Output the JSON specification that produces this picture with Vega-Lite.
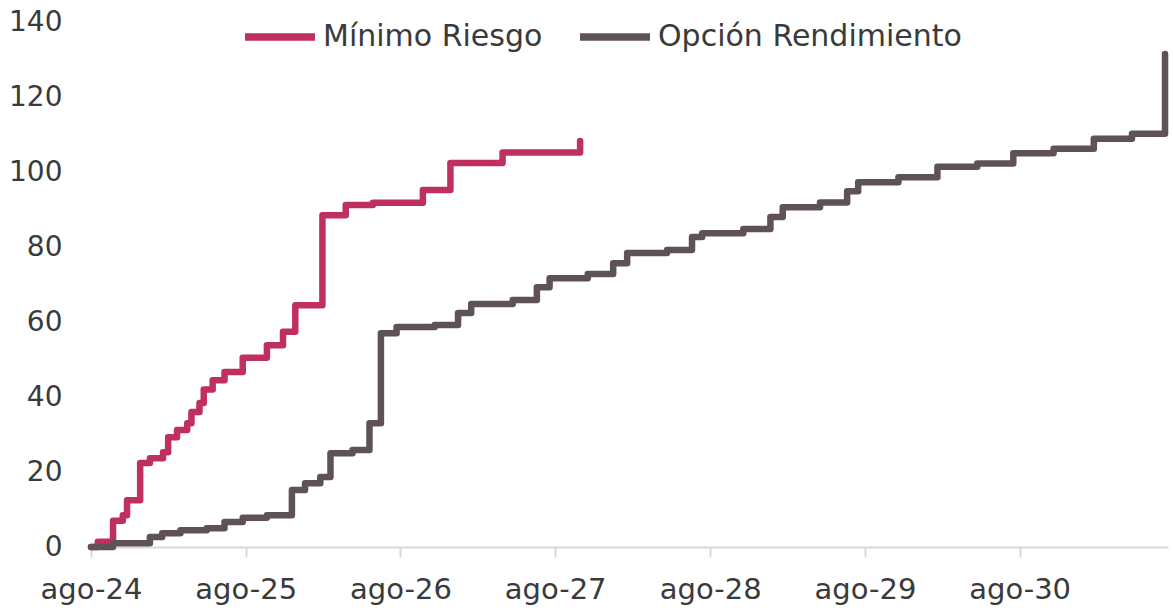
{
  "$schema": "https://vega.github.io/schema/vega-lite/v6.json",
  "width": 1077,
  "height": 525,
  "autosize": {"type": "none"},
  "padding": {"left": 91, "top": 22, "right": 5, "bottom": 67},
  "background": "white",
  "config": {
    "view": {"stroke": null},
    "font": "DejaVu Sans"
  },
  "data": {
    "values": [
      {"serie": "Mínimo Riesgo", "fecha": "2024-08-01", "valor": 0},
      {"serie": "Mínimo Riesgo", "fecha": "2024-08-17", "valor": 1.4},
      {"serie": "Mínimo Riesgo", "fecha": "2024-09-22", "valor": 7},
      {"serie": "Mínimo Riesgo", "fecha": "2024-10-15", "valor": 8.5},
      {"serie": "Mínimo Riesgo", "fecha": "2024-10-25", "valor": 12.5},
      {"serie": "Mínimo Riesgo", "fecha": "2024-11-25", "valor": 22.4},
      {"serie": "Mínimo Riesgo", "fecha": "2024-12-18", "valor": 23.7},
      {"serie": "Mínimo Riesgo", "fecha": "2025-01-18", "valor": 25.3},
      {"serie": "Mínimo Riesgo", "fecha": "2025-01-30", "valor": 29.3},
      {"serie": "Mínimo Riesgo", "fecha": "2025-02-20", "valor": 31.2},
      {"serie": "Mínimo Riesgo", "fecha": "2025-03-16", "valor": 33},
      {"serie": "Mínimo Riesgo", "fecha": "2025-03-26", "valor": 36},
      {"serie": "Mínimo Riesgo", "fecha": "2025-04-14", "valor": 38.4},
      {"serie": "Mínimo Riesgo", "fecha": "2025-04-24", "valor": 42},
      {"serie": "Mínimo Riesgo", "fecha": "2025-05-15", "valor": 44.5},
      {"serie": "Mínimo Riesgo", "fecha": "2025-06-12", "valor": 46.7},
      {"serie": "Mínimo Riesgo", "fecha": "2025-07-25", "valor": 50.5},
      {"serie": "Mínimo Riesgo", "fecha": "2025-09-20", "valor": 53.8},
      {"serie": "Mínimo Riesgo", "fecha": "2025-10-28", "valor": 57.4},
      {"serie": "Mínimo Riesgo", "fecha": "2025-11-26", "valor": 64.5},
      {"serie": "Mínimo Riesgo", "fecha": "2026-01-29", "valor": 88.5},
      {"serie": "Mínimo Riesgo", "fecha": "2026-03-25", "valor": 91.2},
      {"serie": "Mínimo Riesgo", "fecha": "2026-05-28", "valor": 91.8},
      {"serie": "Mínimo Riesgo", "fecha": "2026-09-23", "valor": 95.2},
      {"serie": "Mínimo Riesgo", "fecha": "2026-11-27", "valor": 102.4},
      {"serie": "Mínimo Riesgo", "fecha": "2027-03-30", "valor": 105.2},
      {"serie": "Mínimo Riesgo", "fecha": "2027-09-29", "valor": 108.3},
      {"serie": "Opción Rendimiento", "fecha": "2024-08-01", "valor": 0},
      {"serie": "Opción Rendimiento", "fecha": "2024-09-22", "valor": 1},
      {"serie": "Opción Rendimiento", "fecha": "2024-12-18", "valor": 2.7},
      {"serie": "Opción Rendimiento", "fecha": "2025-01-16", "valor": 3.7},
      {"serie": "Opción Rendimiento", "fecha": "2025-02-28", "valor": 4.5},
      {"serie": "Opción Rendimiento", "fecha": "2025-05-01", "valor": 5},
      {"serie": "Opción Rendimiento", "fecha": "2025-06-12", "valor": 6.7},
      {"serie": "Opción Rendimiento", "fecha": "2025-07-25", "valor": 7.8},
      {"serie": "Opción Rendimiento", "fecha": "2025-09-20", "valor": 8.5},
      {"serie": "Opción Rendimiento", "fecha": "2025-11-18", "valor": 15.2},
      {"serie": "Opción Rendimiento", "fecha": "2025-12-19", "valor": 17},
      {"serie": "Opción Rendimiento", "fecha": "2026-01-24", "valor": 18.7},
      {"serie": "Opción Rendimiento", "fecha": "2026-02-17", "valor": 25},
      {"serie": "Opción Rendimiento", "fecha": "2026-04-10", "valor": 25.9},
      {"serie": "Opción Rendimiento", "fecha": "2026-05-20", "valor": 33},
      {"serie": "Opción Rendimiento", "fecha": "2026-06-16", "valor": 57},
      {"serie": "Opción Rendimiento", "fecha": "2026-07-23", "valor": 58.7},
      {"serie": "Opción Rendimiento", "fecha": "2026-10-21", "valor": 59.2},
      {"serie": "Opción Rendimiento", "fecha": "2026-12-15", "valor": 62.4},
      {"serie": "Opción Rendimiento", "fecha": "2027-01-15", "valor": 64.8},
      {"serie": "Opción Rendimiento", "fecha": "2027-04-23", "valor": 65.9},
      {"serie": "Opción Rendimiento", "fecha": "2027-06-19", "valor": 69.3},
      {"serie": "Opción Rendimiento", "fecha": "2027-07-19", "valor": 71.7},
      {"serie": "Opción Rendimiento", "fecha": "2027-10-17", "valor": 72.8},
      {"serie": "Opción Rendimiento", "fecha": "2027-12-16", "valor": 75.7},
      {"serie": "Opción Rendimiento", "fecha": "2028-01-18", "valor": 78.4},
      {"serie": "Opción Rendimiento", "fecha": "2028-04-21", "valor": 79.2},
      {"serie": "Opción Rendimiento", "fecha": "2028-06-19", "valor": 82.7},
      {"serie": "Opción Rendimiento", "fecha": "2028-07-13", "valor": 83.7},
      {"serie": "Opción Rendimiento", "fecha": "2028-10-18", "valor": 84.8},
      {"serie": "Opción Rendimiento", "fecha": "2028-12-21", "valor": 88},
      {"serie": "Opción Rendimiento", "fecha": "2029-01-19", "valor": 90.6},
      {"serie": "Opción Rendimiento", "fecha": "2029-04-17", "valor": 91.9},
      {"serie": "Opción Rendimiento", "fecha": "2029-06-20", "valor": 94.9},
      {"serie": "Opción Rendimiento", "fecha": "2029-07-16", "valor": 97.3},
      {"serie": "Opción Rendimiento", "fecha": "2029-10-19", "valor": 98.6},
      {"serie": "Opción Rendimiento", "fecha": "2030-01-19", "valor": 101.4},
      {"serie": "Opción Rendimiento", "fecha": "2030-04-23", "valor": 102.3},
      {"serie": "Opción Rendimiento", "fecha": "2030-07-17", "valor": 105},
      {"serie": "Opción Rendimiento", "fecha": "2030-10-20", "valor": 106.2},
      {"serie": "Opción Rendimiento", "fecha": "2031-01-23", "valor": 108.9},
      {"serie": "Opción Rendimiento", "fecha": "2031-04-23", "valor": 110.2},
      {"serie": "Opción Rendimiento", "fecha": "2031-07-10", "valor": 131.5}
    ]
  },
  "mark": {"type": "line", "interpolate": "step-after", "strokeWidth": 6.5, "strokeJoin": "round", "strokeCap": "round"},
  "encoding": {
    "x": {
      "field": "fecha",
      "type": "temporal",
      "scale": {
        "type": "utc",
        "domain": [
          {"year": 2024, "month": 8, "date": 1, "utc": true},
          {"year": 2031, "month": 7, "date": 17, "utc": true}
        ]
      },
      "axis": {
        "title": null,
        "values": [
          {"year": 2024, "month": 8, "date": 1, "utc": true},
          {"year": 2025, "month": 8, "date": 1, "utc": true},
          {"year": 2026, "month": 8, "date": 1, "utc": true},
          {"year": 2027, "month": 8, "date": 1, "utc": true},
          {"year": 2028, "month": 8, "date": 1, "utc": true},
          {"year": 2029, "month": 8, "date": 1, "utc": true},
          {"year": 2030, "month": 8, "date": 1, "utc": true}
        ],
        "labelExpr": "'ago-' + utcFormat(datum.value, '%y')",
        "grid": false,
        "domainColor": "#D9D9D9",
        "domainWidth": 2,
        "tickColor": "#D9D9D9",
        "tickWidth": 2,
        "tickSize": 10,
        "labelFontSize": 29,
        "labelColor": "#3A3A3A",
        "labelPadding": 18,
        "labelFlush": false,
        "labelOverlap": false
      }
    },
    "y": {
      "field": "valor",
      "type": "quantitative",
      "scale": {"domain": [0, 140], "nice": false},
      "axis": {
        "title": null,
        "values": [0, 20, 40, 60, 80, 100, 120, 140],
        "grid": false,
        "domain": false,
        "ticks": false,
        "labelFontSize": 28,
        "labelColor": "#3A3A3A",
        "labelPadding": 29
      }
    },
    "color": {
      "field": "serie",
      "type": "nominal",
      "scale": {
        "domain": ["Mínimo Riesgo", "Opción Rendimiento"],
        "range": ["#BF2F5F", "#5E5256"]
      },
      "legend": {
        "title": null,
        "orient": "none",
        "direction": "horizontal",
        "legendX": 150,
        "legendY": -24,
        "padding": 0,
        "symbolType": "stroke",
        "symbolSize": 4900,
        "symbolStrokeWidth": 7.5,
        "labelFontSize": 30,
        "labelColor": "#3A3A3A",
        "labelLimit": 500,
        "labelOffset": 4,
        "columnPadding": 22
      }
    }
  }
}
